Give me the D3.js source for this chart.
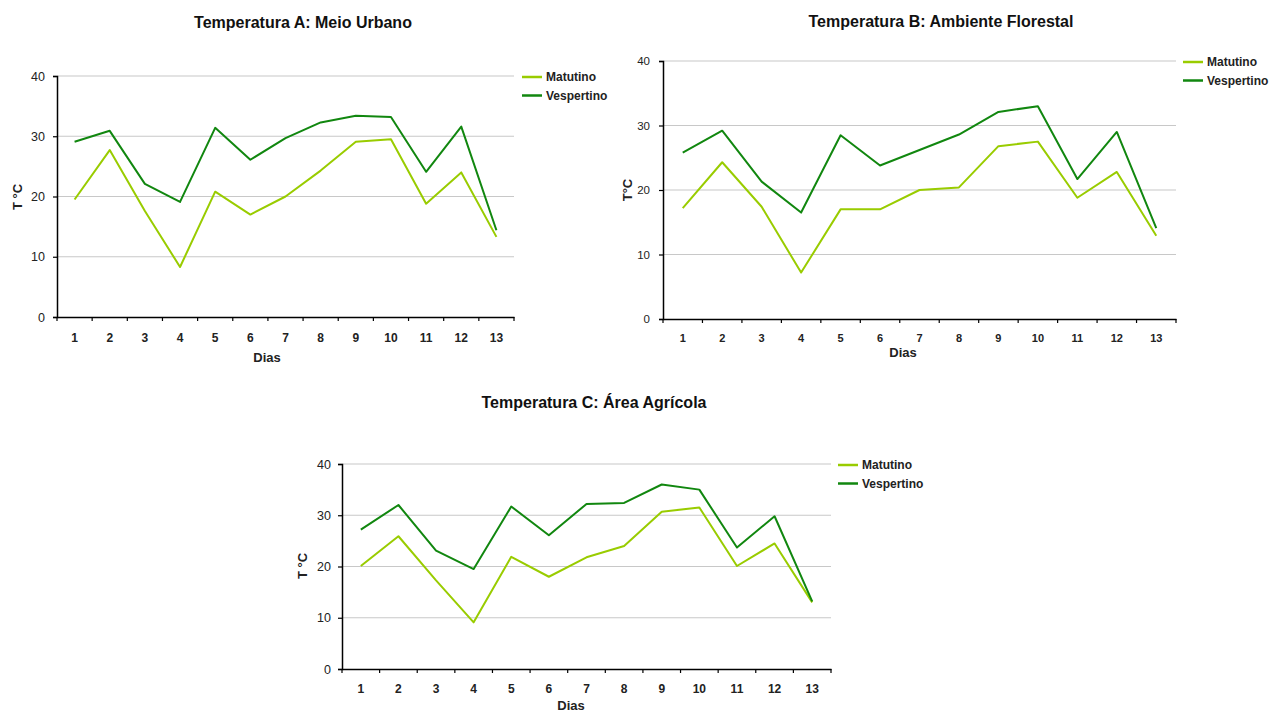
<!DOCTYPE html>
<html>
<head>
<meta charset="utf-8">
<script src="https://cdn.jsdelivr.net/npm/d3@7"></script>
<style>
  body { margin: 0; background: #fff; }
  svg { font-family: "Liberation Sans", Arial, sans-serif; }
</style>
</head>
<body>
<div id="chart"></div>
<script>
// days on the x axis
const days = ["1","2","3","4","5","6","7","8","9","10","11","12","13"]
const yTicks = [0, 10, 20, 30, 40]
const seriesNames = ["Matutino", "Vespertino"]

// Temperatura A: Meio Urbano
const urbanoMatutino   = [19.5, 27.7, 17.6, 8.3, 20.8, 17.0, 20.0, 24.3, 29.1, 29.5, 18.8, 24.0, 13.3]
const urbanoVespertino = [29.1, 30.9, 22.1, 19.1, 31.4, 26.1, 29.7, 32.3, 33.4, 33.2, 24.1, 31.6, 14.4]

// Temperatura B: Ambiente Florestal
const florestalMatutino   = [17.2, 24.3, 17.4, 7.2, 17.0, 17.0, 20.0, 20.4, 26.8, 27.5, 18.8, 22.8, 12.9]
const florestalVespertino = [25.8, 29.2, 21.3, 16.5, 28.5, 23.8, 26.2, 28.6, 32.1, 33.0, 21.7, 29.0, 14.1]

// Temperatura C: Área Agrícola
const agricolaMatutino   = [20.1, 25.9, 17.3, 9.1, 21.9, 18.0, 21.8, 24.0, 30.7, 31.5, 20.1, 24.5, 13.0]
const agricolaVespertino = [27.2, 32.0, 23.1, 19.5, 31.7, 26.1, 32.2, 32.4, 36.0, 35.0, 23.7, 29.8, 13.2]

const colors = { "Matutino": "#99cc00", "Vespertino": "#11870f" }

const svg = d3.select("#chart")
  .append("svg")
    .attr("width", 1271)
    .attr("height", 713)

// each panel: where it sits and how its text is placed
const panels = [
  {
    title: "Temperatura A: Meio Urbano", titleX: 303, titleY: 28,
    left: 57, right: 514, top: 76, bottom: 317,
    yLabel: "T °C", yLabelX: 17, yLabelY: 197,
    xLabelX: 267, xLabelY: 362,
    xTickSize: 12, yTickSize: 12.5, tickDy: 25, yTickGap: 12,
    legendX: 522, legendY: 77,
    values: [urbanoMatutino, urbanoVespertino]
  },
  {
    title: "Temperatura B: Ambiente Florestal", titleX: 941, titleY: 27,
    left: 663, right: 1176, top: 61, bottom: 319,
    yLabel: "T°C", yLabelX: 627, yLabelY: 190,
    xLabelX: 903, xLabelY: 357,
    xTickSize: 11, yTickSize: 11.5, tickDy: 23, yTickGap: 13,
    legendX: 1183, legendY: 62,
    values: [florestalMatutino, florestalVespertino]
  },
  {
    title: "Temperatura C: Área Agrícola", titleX: 594, titleY: 408,
    left: 342, right: 831, top: 464, bottom: 669,
    yLabel: "T °C", yLabelX: 302, yLabelY: 566,
    xLabelX: 571, xLabelY: 710,
    xTickSize: 12, yTickSize: 12.5, tickDy: 24, yTickGap: 11,
    legendX: 838, legendY: 465,
    values: [agricolaMatutino, agricolaVespertino]
  }
]

panels.forEach(p => drawPanel(p))

function drawPanel(p) {
  const g = svg.append("g")

  const x = d3.scaleBand()
    .domain(days)
    .range([p.left, p.right])

  const y = d3.scaleLinear()
    .domain([0, 40])
    .range([p.bottom, p.top])

  // grid lines
  g.append("g")
    .selectAll("line")
    .data(yTicks.filter(t => t > 0))
    .join("line")
      .attr("x1", p.left)
      .attr("x2", p.right)
      .attr("y1", d => y(d))
      .attr("y2", d => y(d))
      .attr("stroke", "#c8c8c8")
      .attr("stroke-width", 1.2)

  // Y axis
  const yAxis = g.append("g")
    .attr("transform", `translate(${p.left},0)`)
    .call(d3.axisLeft(y).tickValues(yTicks).tickSize(4).tickPadding(p.yTickGap - 4))
  yAxis.select(".domain").attr("stroke", "#000").attr("stroke-width", 1.5)
  yAxis.selectAll(".tick line").attr("stroke", "#000").attr("stroke-width", 1.2)
  yAxis.selectAll(".tick text")
    .attr("fill", "#222")
    .style("font-size", p.yTickSize + "px")

  // X axis: labels at centres, tick marks at category boundaries
  const xAxis = g.append("g")
    .attr("transform", `translate(0,${p.bottom})`)
    .call(d3.axisBottom(x).tickSize(0).tickPadding(0))
  xAxis.select(".domain").attr("stroke", "#000").attr("stroke-width", 1.5)
  xAxis.selectAll(".tick text")
    .attr("y", p.tickDy)
    .attr("dy", 0)
    .attr("fill", "#222")
    .style("font-size", p.xTickSize + "px")
    .style("font-weight", "bold")

  const edges = days.map(d => x(d)).concat([p.right])
  xAxis.selectAll(".edge")
    .data(edges)
    .join("line")
      .attr("class", "edge")
      .attr("x1", d => d)
      .attr("x2", d => d)
      .attr("y1", 0)
      .attr("y2", 4)
      .attr("stroke", "#000")
      .attr("stroke-width", 1.2)

  // lines
  const line = d3.line()
    .x((d, i) => x(days[i]) + x.bandwidth() / 2)
    .y(d => y(d))

  seriesNames.forEach((name, k) => {
    g.append("path")
      .datum(p.values[k])
      .attr("fill", "none")
      .attr("stroke", colors[name])
      .attr("stroke-width", 2)
      .attr("stroke-linejoin", "round")
      .attr("d", line)
  })

  // titles and axis labels
  g.append("text")
    .attr("x", p.titleX)
    .attr("y", p.titleY)
    .attr("text-anchor", "middle")
    .style("font-size", "16px")
    .style("font-weight", "bold")
    .attr("fill", "#111")
    .text(p.title)

  g.append("text")
    .attr("transform", `translate(${p.yLabelX + 5},${p.yLabelY}) rotate(-90)`)
    .attr("text-anchor", "middle")
    .style("font-size", "13px")
    .style("font-weight", "bold")
    .attr("fill", "#222")
    .text(p.yLabel)

  g.append("text")
    .attr("x", p.xLabelX)
    .attr("y", p.xLabelY)
    .attr("text-anchor", "middle")
    .style("font-size", "13px")
    .style("font-weight", "bold")
    .attr("fill", "#222")
    .text("Dias")

  // legend
  const legend = g.append("g")
    .attr("transform", `translate(${p.legendX},${p.legendY})`)
  seriesNames.forEach((name, k) => {
    legend.append("line")
      .attr("x1", 0)
      .attr("x2", 20)
      .attr("y1", k * 18.5)
      .attr("y2", k * 18.5)
      .attr("stroke", colors[name])
      .attr("stroke-width", 2.5)
    legend.append("text")
      .attr("x", 24)
      .attr("y", k * 18.5 + 4)
      .style("font-size", "12px")
      .style("font-weight", "bold")
      .attr("fill", "#222")
      .text(name)
  })
}
</script>
</body>
</html>
